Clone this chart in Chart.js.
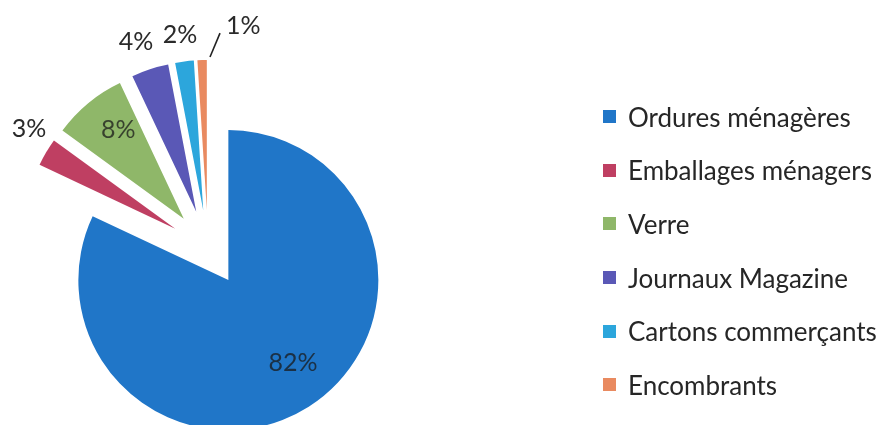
<!DOCTYPE html>
<html lang="fr">
<head>
<meta charset="utf-8">
<title>Répartition des déchets</title>
<script src="https://cdn.jsdelivr.net/npm/chart.js@4.4.1/dist/chart.umd.min.js"></script>
<style>
  html, body { margin: 0; padding: 0; background: #fff; }
  #cadre { position: relative; width: 887px; height: 425px; overflow: hidden; }
  #legende { position: absolute; left: 603px; top: 90px; font-family: Lato, "Noto Sans", sans-serif; font-size: 26px; color: #262626; }
  .ligne { display: flex; align-items: center; height: 53.6px; white-space: nowrap; }
  .carre { width: 13px; height: 13px; margin-right: 12px; flex: none; }
</style>
</head>
<body>
<div id="cadre">
  <canvas id="camembert"></canvas>
  <div id="legende"></div>
</div>
<script>
// données
const categories = ["Ordures ménagères", "Emballages ménagers", "Verre", "Journaux Magazine", "Cartons commerçants", "Encombrants"];
const pourcentages = [82, 3, 8, 4, 2, 1];
const couleurs = ["#2076c8", "#bf3f62", "#8fb769", "#5a58b6", "#2ca6dc", "#e98a60"];

// placement des étiquettes : distance (x rayon) et décalage angulaire (degrés)
const etiqRayon = [0.953, 1.433, 0.987, 1.453, 1.433, 1.5];
const etiqDecalage = [-4.1, 3.0, 2.3, -1.3, -0.3, 10.8];
const etiqInterieur = [true, false, true, false, false, false];
const ecart = 38; // éclatement des parts

// on dessine nous-mêmes les parts pour les décaler le long de leur bissectrice
const eclatement = {
  id: "eclatement",
  beforeDatasetDraw(chart, args) {
    let ctx = chart.ctx;
    args.meta.data.forEach(arc => {
      let milieu = (arc.startAngle + arc.endAngle) / 2;
      ctx.save();
      ctx.translate(Math.cos(milieu) * ecart, Math.sin(milieu) * ecart);
      arc.draw(ctx);
      ctx.restore();
    });
    return false;
  }
};

const etiquettes = {
  id: "etiquettes",
  afterDatasetsDraw(chart) {
    let ctx = chart.ctx;
    let meta = chart.getDatasetMeta(0);
    ctx.save();
    ctx.font = "25px Lato, 'Noto Sans', sans-serif";
    ctx.textAlign = "center";
    ctx.textBaseline = "middle";
    meta.data.forEach((arc, i) => {
      let milieu = (arc.startAngle + arc.endAngle) / 2;
      let a = milieu + etiqDecalage[i] * Math.PI / 180;
      let r = etiqRayon[i] * arc.outerRadius;
      let x = arc.x + Math.cos(a) * r;
      let y = arc.y + Math.sin(a) * r;
      ctx.fillStyle = etiqInterieur[i] ? "rgba(25,25,25,0.75)" : "#2a2a2a";
      ctx.fillText(pourcentages[i] + "%", x, y);
      // trait de rappel quand l'étiquette est décalée
      if (etiqDecalage[i] > 5) {
        let a1 = arc.endAngle + 0.6 * Math.PI / 180;
        let r1 = arc.outerRadius + ecart + 3;
        let a2 = milieu + 5 * Math.PI / 180;
        let r2 = 1.435 * arc.outerRadius;
        ctx.strokeStyle = "#222";
        ctx.lineWidth = 1.6;
        ctx.beginPath();
        ctx.moveTo(arc.x + Math.cos(a1) * r1, arc.y + Math.sin(a1) * r1);
        ctx.lineTo(arc.x + Math.cos(a2) * r2, arc.y + Math.sin(a2) * r2);
        ctx.stroke();
      }
    });
    ctx.restore();
  }
};

new Chart(document.getElementById("camembert"), {
  type: "pie",
  data: {
    labels: categories,
    datasets: [{
      data: pourcentages,
      backgroundColor: couleurs,
      borderWidth: 0,
      clip: false
    }]
  },
  options: {
    responsive: true,
    maintainAspectRatio: false,
    animation: false,
    radius: 150,
    layout: { padding: { left: 0, right: 471, top: 71, bottom: 0 } },
    plugins: {
      legend: { display: false },
      tooltip: { enabled: false }
    }
  },
  plugins: [eclatement, etiquettes]
});

// légende à droite, construite à partir des mêmes tableaux
let legende = document.getElementById("legende");
categories.forEach((nom, i) => {
  let ligne = document.createElement("div");
  ligne.className = "ligne";
  let carre = document.createElement("span");
  carre.className = "carre";
  carre.style.background = couleurs[i];
  let texte = document.createElement("span");
  texte.textContent = nom;
  ligne.appendChild(carre);
  ligne.appendChild(texte);
  legende.appendChild(ligne);
});
</script>
</body>
</html>
